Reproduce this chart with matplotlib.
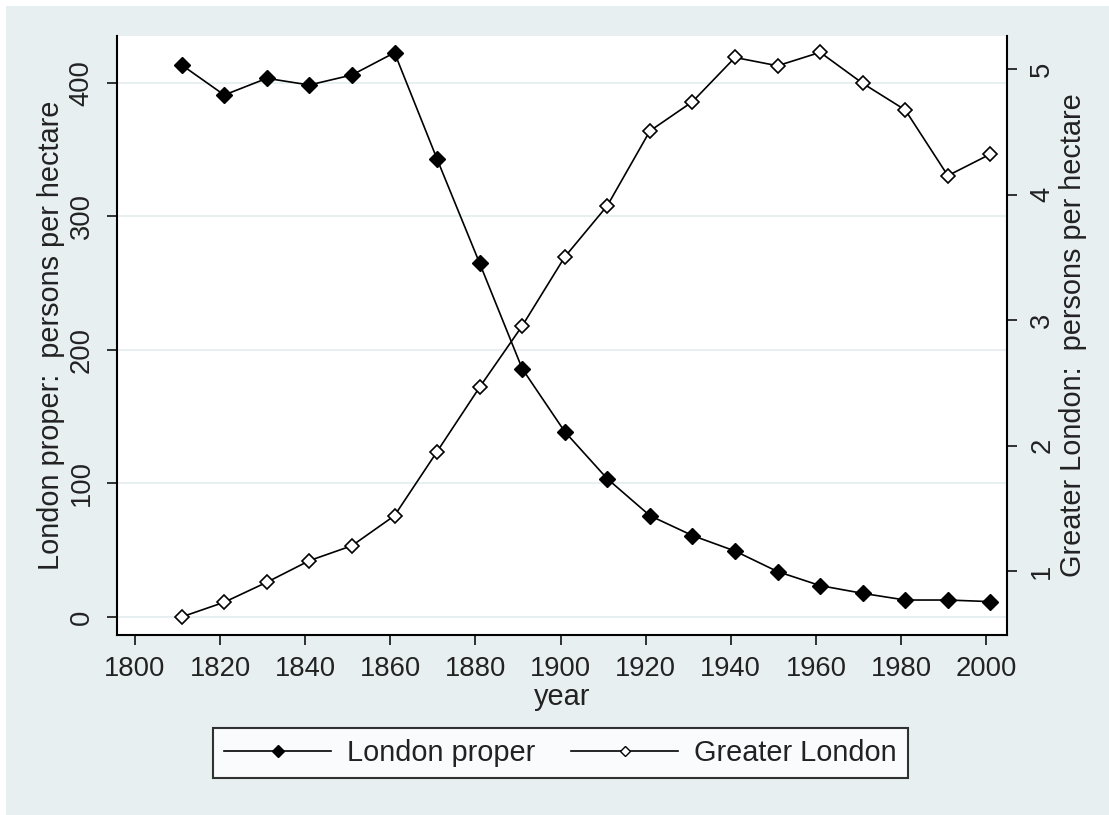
import matplotlib
matplotlib.use("Agg")
import matplotlib.pyplot as plt
from matplotlib.patches import Rectangle
from matplotlib.lines import Line2D

years = [1811, 1821, 1831, 1841, 1851, 1861, 1871, 1881, 1891, 1901,
         1911, 1921, 1931, 1941, 1951, 1961, 1971, 1981, 1991, 2001]
london_proper = [413.5, 391, 403.5, 398.5, 406, 422.7, 343, 265, 186, 138.8,
                 103.5, 75.9, 61, 49.4, 34, 23.5, 17.7, 12.7, 12.7, 11.5]
greater_london = [0.638, 0.755, 0.914, 1.086, 1.205, 1.444, 1.954, 2.467, 2.955, 3.504,
                  3.912, 4.507, 4.740, 5.092, 5.026, 5.133, 4.886, 4.674, 4.151, 4.323]
x_ticks = [1800, 1820, 1840, 1860, 1880, 1900, 1920, 1940, 1960, 1980, 2000]
left_ticks = [0, 100, 200, 300, 400]
right_ticks = [1, 2, 3, 4, 5]

plt.rcParams['font.family'] = ['Liberation Sans', 'DejaVu Sans']

W, H = 1109, 815
fig = plt.figure(figsize=(W / 100, H / 100), dpi=100, facecolor='white')
bg = '#e8eff1'
fig.patches.append(Rectangle((6 / W, -0.01), 1.02 - 6 / W, 1.01 - 6 / H, transform=fig.transFigure,
                             facecolor=bg, edgecolor='none', zorder=-10))

l, r, t, b = 117, 1007, 36, 635
ax = fig.add_axes([l / W, 1 - b / H, (r - l) / W, (b - t) / H])
ax.set_facecolor('white')
ax2 = ax.twinx()

ax.plot(years, london_proper, color='black', lw=1.2, marker='D', ms=8.5,
        mfc='black', mec='black', zorder=3)
ax2.plot(years, greater_london, color='black', lw=1.2, marker='D', ms=7,
         mfc='white', mec='black', mew=1.2, zorder=3)

ax.set_xlim(1795.8, 2004.9)
ax.set_ylim(-13.5, 435.2)
ax2.set_ylim(0.494, 5.263)
ax.set_xticks(x_ticks)
ax.set_yticks(left_ticks)
ax2.set_yticks(right_ticks)

ax.yaxis.grid(True, color='#e4ecee', lw=1.2)
ax.set_axisbelow(True)

for s in ['top', 'right']:
    ax.spines[s].set_visible(False)
for s in ['top', 'left', 'bottom']:
    ax2.spines[s].set_visible(False)
for sp in [ax.spines['left'], ax.spines['bottom'], ax2.spines['right']]:
    sp.set_linewidth(1.5)
    sp.set_color('black')

fs = 19.7
fs2 = 20.8
tc = '#222222'
ax.tick_params(axis='x', length=7, width=1.3, pad=8, labelsize=fs, colors=tc)
ax.tick_params(axis='y', length=7, width=1.3, pad=9, labelsize=fs, colors=tc,
               labelrotation=90)
ax2.tick_params(axis='y', length=7, width=1.3, pad=9, labelsize=fs, colors=tc,
                labelrotation=90)
for lab in ax.get_yticklabels() + ax2.get_yticklabels():
    lab.set_verticalalignment('center')

ax.set_xlabel('year', fontsize=fs2, labelpad=1, color=tc)
ax.set_ylabel('London proper:  persons per hectare', fontsize=fs2, labelpad=3, color=tc)
ax2.set_ylabel('Greater London:  persons per hectare', fontsize=fs2, labelpad=3, color=tc)

h1 = Line2D([], [], color='black', lw=1.2, marker='D', ms=6.5, mfc='black', mec='black')
h2 = Line2D([], [], color='black', lw=1.2, marker='D', ms=5, mfc='white', mec='black')
leg = fig.legend([h1, h2], ['London proper', 'Greater London'], ncol=2,
                 loc='center', bbox_to_anchor=(560.5 / W, 1 - 753 / H),
                 fontsize=fs2, frameon=True, fancybox=False, handlelength=3.7,
                 handletextpad=0.55, columnspacing=1.25, borderpad=0.38)
leg.get_frame().set_edgecolor('black')
leg.get_frame().set_linewidth(1.5)
leg.get_frame().set_facecolor('white')
for txt in leg.get_texts():
    txt.set_color(tc)

fig.savefig('out.png', dpi=100, facecolor=fig.get_facecolor())
